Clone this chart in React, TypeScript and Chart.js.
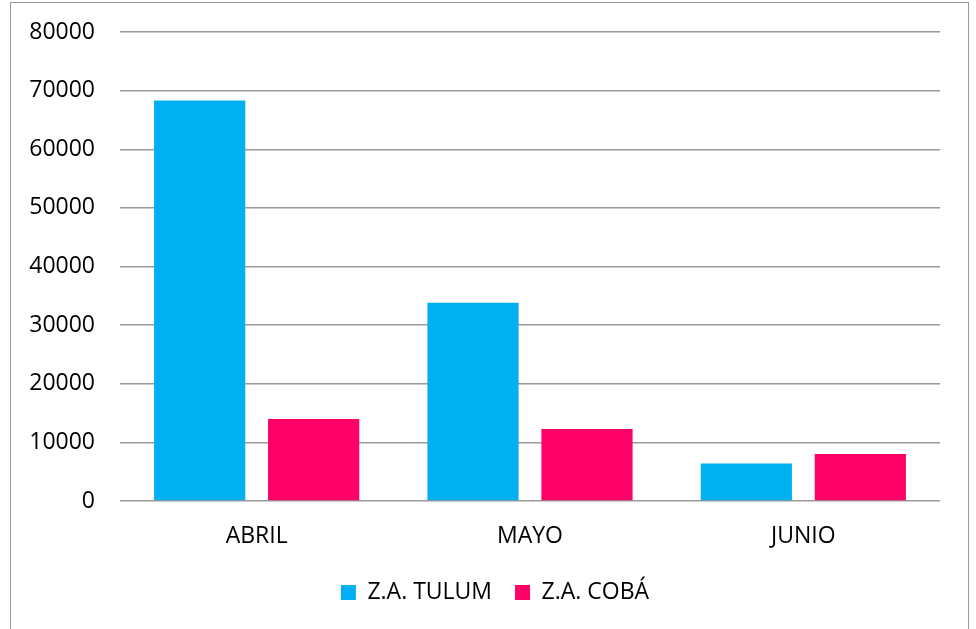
import React, { useEffect, useRef } from "react";
import { Chart, registerables } from "chart.js";

Chart.register(...registerables);

const categories = ["ABRIL", "MAYO", "JUNIO"];
const seriesNames = ["Z.A. TULUM", "Z.A. COBÁ"];
const tulumValues = [68300, 33800, 6400];
const cobaValues = [14000, 12300, 8000];
const seriesColors = ["#00B0F0", "#FF0066"];
const yMin = 0;
const yMax = 80000;
const yStep = 10000;

const legendShift = {
  id: "legendShift",
  afterLayout(chart: any) {
    const lg = chart.legend;
    if (lg) {
      lg.left += 20;
      lg.right += 20;
    }
  },
};

export default function App() {
  const ref = useRef<HTMLCanvasElement | null>(null);

  useEffect(() => {
    if (!ref.current) return;
    const font = { family: "'Open Sans'", size: 23 };
    const chart = new Chart(ref.current, {
      type: "bar",
      data: {
        labels: categories,
        datasets: [
          {
            label: seriesNames[0],
            data: tulumValues,
            backgroundColor: seriesColors[0],
            borderWidth: 0,
          },
          {
            label: seriesNames[1],
            data: cobaValues,
            backgroundColor: seriesColors[1],
            borderWidth: 0,
          },
        ],
      },
      options: {
        animation: false,
        responsive: false,
        maintainAspectRatio: false,
        categoryPercentage: 0.834,
        barPercentage: 0.8,
        layout: { padding: { left: 10, right: 36, top: 32, bottom: 15 } },
        plugins: {
          tooltip: { enabled: false },
          legend: {
            position: "bottom",
            labels: {
              font,
              color: "#000",
              boxWidth: 15,
              boxHeight: 15,
              padding: 23,
            },
          },
        },
        scales: {
          x: {
            grid: { display: false, drawTicks: false },
            border: { display: false },
            ticks: { font, color: "#000", padding: 22 },
            afterFit: (s: any) => {
              s.height = 57;
            },
          },
          y: {
            min: yMin,
            max: yMax,
            grid: { color: "#9a9a9a", lineWidth: 1.5, drawTicks: false },
            border: { display: false },
            ticks: {
              stepSize: yStep,
              font,
              color: "#000",
              padding: 25,
              callback: (v: any) => String(v),
            },
            afterFit: (s: any) => {
              s.width = 110;
              s.paddingTop = 0;
              s.paddingBottom = 0;
            },
          },
        },
      },
      plugins: [legendShift],
    });
    return () => chart.destroy();
  }, []);

  return (
    <>
      <canvas
        ref={ref}
        width={976}
        height={629}
        style={{ position: "absolute", left: 0, top: 0, width: 976, height: 629 }}
      />
      <div
        style={{
          position: "absolute",
          left: 10,
          top: 2,
          width: 957,
          height: 626,
          borderTop: "1px solid #999",
          borderLeft: "1px solid #999",
          borderRight: "1px solid #999",
          pointerEvents: "none",
        }}
      />
    </>
  );
}
